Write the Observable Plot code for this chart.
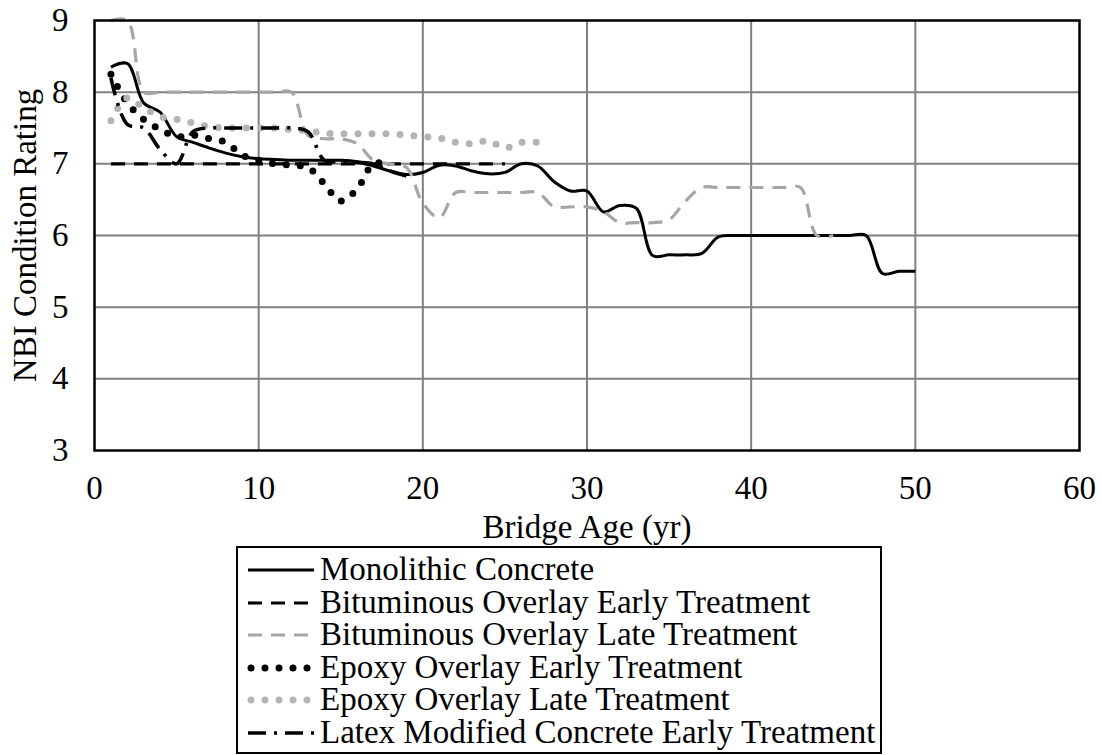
<!DOCTYPE html>
<html>
<head>
<meta charset="utf-8">
<script src="https://cdn.jsdelivr.net/npm/d3@7"></script>
<script src="https://cdn.jsdelivr.net/npm/@observablehq/plot@0.6"></script>
<style>
  body { margin: 0; background: #fff; }
  #wrap { position: relative; width: 1102px; height: 755px; font-family: "Liberation Serif", "Times New Roman", serif; }
  #chart { position: absolute; left: 0; top: 0; }
  #legend { position: absolute; left: 236px; top: 546px; width: 646px; height: 208px; border: 2px solid #000; box-sizing: border-box; background: #fff; }
  .row { position: absolute; left: 7px; height: 33px; display: flex; align-items: center; font-size: 33px; line-height: 33px; white-space: nowrap; color: #000; }
  .row svg { margin-right: 5px; }
</style>
</head>
<body>
<div id="wrap"><div id="chart"></div><div id="legend"></div></div>
<script>
// ---------- data ----------
const xTicks = [0, 10, 20, 30, 40, 50, 60];
const yTicks = [3, 4, 5, 6, 7, 8, 9];

const monolithicAge = [1,2,3,4,5,6,7,8,9,10,11,12,13,14,15,16,17,18,19,20,21,22,23,24,25,26,27,28,29,30,31,32,33,34,35,36,37,38,39,40,41,42,43,44,45,46,47,48,49,50];
const monolithicRating = [8.35,8.4,7.85,7.72,7.38,7.3,7.22,7.15,7.1,7.07,7.06,7.05,7.05,7.05,7.05,7.03,6.97,6.9,6.85,6.88,6.98,6.97,6.9,6.86,6.88,7.0,6.97,6.75,6.62,6.62,6.33,6.42,6.38,5.72,5.73,5.73,5.75,5.98,6.0,6.0,6.0,6.0,6.0,6.0,6.0,6.0,6.0,5.47,5.5,5.5];

const bitEarlyAge = [1,2,3,4,5,6,7,8,9,10,11,12,13,14,15,16,17,18,19,20,21,22,23,24,25];
const bitEarlyRating = [7.0,7.0,7.0,7.0,7.0,7.0,7.0,7.0,7.0,7.0,7.0,7.0,7.0,7.0,7.0,7.0,7.0,7.0,7.0,7.0,7.0,7.0,7.0,7.0,7.0];

const bitLateAge = [1,2,3,4,5,6,7,8,9,10,11,12,13,14,15,16,17,18,19,20,21,22,23,24,25,26,27,28,29,30,31,32,33,34,35,36,37,38,39,40,41,42,43,44,45];
const bitLateRating = [9.0,9.0,8.0,8.0,8.0,8.0,8.0,8.0,8.0,8.0,8.0,8.0,7.4,7.35,7.35,7.28,7.05,7.0,6.95,6.45,6.25,6.6,6.6,6.6,6.6,6.6,6.6,6.4,6.4,6.4,6.33,6.18,6.18,6.18,6.22,6.48,6.67,6.67,6.67,6.67,6.67,6.67,6.67,6.0,6.0];

const epoxyEarlyAge = [1,2,3,4,5,6,7,8,9,10,11,12,13,14,15,16,17,18];
const epoxyEarlyRating = [8.25,7.85,7.62,7.48,7.38,7.4,7.35,7.3,7.12,7.05,7.0,6.98,6.95,6.72,6.48,6.65,7.0,7.0];

const epoxyLateAge = [1,2,3,4,5,6,7,8,9,10,11,12,13,14,15,16,17,18,19,20,21,22,23,24,25,26,27];
const epoxyLateRating = [7.6,7.92,7.78,7.66,7.62,7.57,7.52,7.5,7.5,7.5,7.5,7.48,7.46,7.43,7.42,7.42,7.42,7.42,7.4,7.38,7.36,7.3,7.28,7.32,7.22,7.3,7.3];

const latexEarlyAge = [1,2,3,4,5,6,7,8,9,10,11,12,13,14,15,16,17,18,19];
const latexEarlyRating = [8.2,7.55,7.5,7.2,7.0,7.45,7.5,7.5,7.5,7.5,7.5,7.5,7.45,7.05,7.03,7.02,7.0,6.9,6.83];

const seriesNames = [
  "Monolithic Concrete",
  "Bituminous Overlay Early Treatment",
  "Bituminous Overlay Late Treatment",
  "Epoxy Overlay Early Treatment",
  "Epoxy Overlay Late Treatment",
  "Latex Modified Concrete Early Treatment"
];

// ---------- styles ----------
const styles = [
  {stroke: "#000", strokeWidth: 3, dash: null, cap: "butt"},
  {stroke: "#000", strokeWidth: 3.2, dash: "14 9", cap: "butt"},
  {stroke: "#a6a6a6", strokeWidth: 3.2, dash: "14 9", cap: "butt"},
  {stroke: "#000", strokeWidth: 7, dash: "0 14", cap: "round"},
  {stroke: "#b4b4b4", strokeWidth: 7, dash: "0 14", cap: "round"},
  {stroke: "#000", strokeWidth: 3.6, dash: "18 8 3 8", cap: "butt"}
];

function toRows(ages, ratings) {
  return ages.map((a, i) => ({age: a, rating: ratings[i]}));
}
const seriesData = [
  toRows(monolithicAge, monolithicRating),
  toRows(bitEarlyAge, bitEarlyRating),
  toRows(bitLateAge, bitLateRating),
  toRows(epoxyEarlyAge, epoxyEarlyRating),
  toRows(epoxyLateAge, epoxyLateRating),
  toRows(latexEarlyAge, latexEarlyRating)
];

const lineMarks = seriesData.map((d, i) => Plot.line(d, {
  x: "age", y: "rating",
  stroke: styles[i].stroke,
  strokeWidth: styles[i].strokeWidth,
  strokeDasharray: styles[i].dash || undefined,
  strokeLinecap: styles[i].cap,
  strokeLinejoin: "round",
  curve: "catmull-rom"
}));

const chart = Plot.plot({
  width: 1102,
  height: 545,
  marginLeft: 94,
  marginRight: 23,
  marginTop: 20,
  marginBottom: 95,
  style: {fontFamily: "'Liberation Serif', 'Times New Roman', serif", fontSize: "33px", color: "#000", background: "#fff", overflow: "visible"},
  x: {domain: [0, 60]},
  y: {domain: [3, 9]},
  marks: [
    Plot.gridX(xTicks.slice(1, -1), {stroke: "#808080", strokeOpacity: 1, strokeWidth: 2}),
    Plot.gridY(yTicks.slice(1, -1), {stroke: "#808080", strokeOpacity: 1, strokeWidth: 2}),
    Plot.axisX(xTicks, {tickSize: 0, tickPadding: 25, tickFormat: d => String(d), label: "Bridge Age (yr)", labelAnchor: "center", labelArrow: "none", labelOffset: 87, fill: "#000"}),
    Plot.axisY(yTicks, {tickSize: 0, tickPadding: 26, tickFormat: d => String(d), label: "NBI Condition Rating", labelAnchor: "center", labelArrow: "none", labelOffset: 82, fill: "#000"}),
    ...lineMarks,
    Plot.frame({stroke: "#000", strokeWidth: 2.5})
  ]
});
document.getElementById("chart").appendChild(chart);

// ---------- legend ----------
const legend = document.getElementById("legend");
seriesNames.forEach((name, i) => {
  const row = document.createElement("div");
  row.className = "row";
  row.style.top = (5 + i * 32.6) + "px";
  const svg = d3.create("svg").attr("width", 70).attr("height", 33);
  const s = styles[i];
  svg.append("line")
    .attr("x1", s.cap === "round" ? 6 : 3).attr("x2", 69).attr("y1", 17).attr("y2", 17)
    .attr("stroke", s.stroke)
    .attr("stroke-width", s.strokeWidth)
    .attr("stroke-dasharray", s.dash)
    .attr("stroke-linecap", s.cap);
  row.appendChild(svg.node());
  const span = document.createElement("span");
  span.textContent = name;
  row.appendChild(span);
  legend.appendChild(row);
});
</script>
</body>
</html>
